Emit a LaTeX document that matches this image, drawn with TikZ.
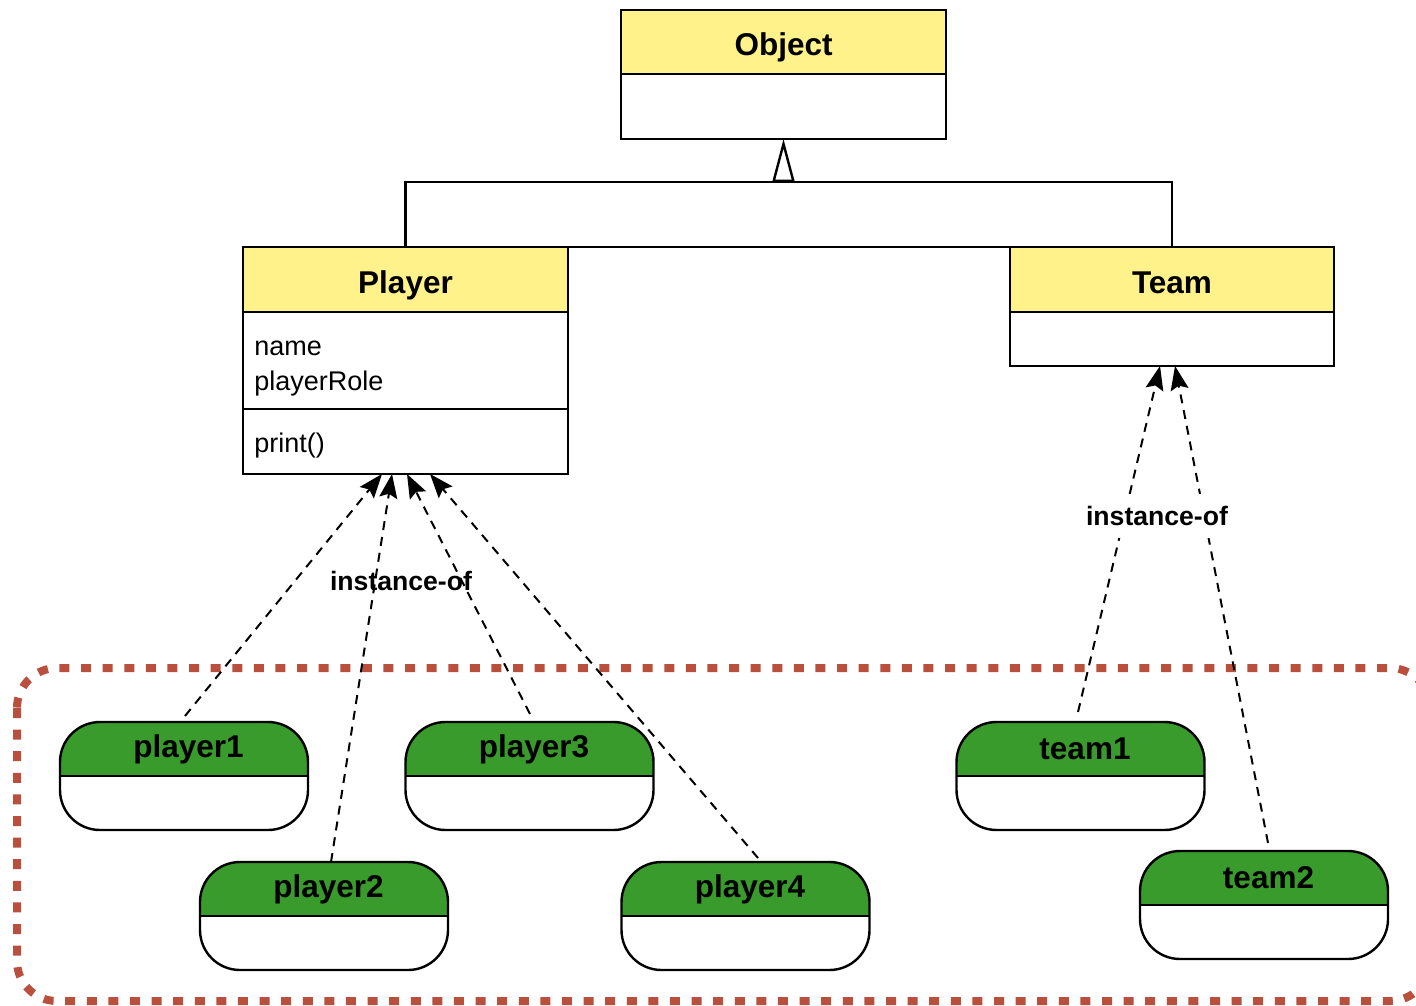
\documentclass[tikz,border=0pt]{standalone}
\usepackage{fontspec}
\setmainfont{Liberation Sans}
\usetikzlibrary{arrows.meta}
\definecolor{classyellow}{RGB}{255,242,138}
\definecolor{instgreen}{RGB}{57,155,43}
\definecolor{groupred}{RGB}{185,80,62}
\begin{document}
\begin{tikzpicture}[x=0.5pt,y=-0.5pt,
  boxline/.style={line width=1.2pt},
  classhead/.style={boxline, draw, fill=classyellow, outer sep=0pt, inner sep=0pt,
    text height=15pt, text depth=1.5pt,
    font=\fontsize{15.75}{19}\selectfont\bfseries},
  classbody/.style={boxline, draw, fill=white, outer sep=0pt, inner sep=0pt},
  attr/.style={inner sep=0pt, align=left, font=\fontsize{13.5}{17.5}\selectfont},
  instbox/.style={boxline, draw, rounded corners=20pt, outer sep=0pt, inner sep=0pt,
    minimum width=124pt, minimum height=54pt,
    path picture={
      \fill[instgreen, sharp corners] (path picture bounding box.north west) rectangle (path picture bounding box.east);
      \draw[boxline, sharp corners] (path picture bounding box.west) -- (path picture bounding box.east);}},
  instname/.style={inner sep=0pt, font=\fontsize{15.75}{19}\selectfont\bfseries},
  reltext/.style={inner sep=0pt, font=\fontsize{13.3}{16}\selectfont\bfseries},
  assoc/.style={boxline},
  gen/.style={boxline, -{Triangle[open, length=21.5pt, width=11pt]}},
  inst/.style={line width=1pt, dash pattern=on 4.5pt off 3.5pt,
    -{Stealth[length=12pt, width=9pt, inset=2pt]}},
  groupbox/.style={draw=groupred, line width=4pt, dash pattern=on 5pt off 5.8pt, rounded corners=20pt}
]
\clip (0,0) rectangle (1416,1005);

% grouping frame around the instances
\draw[groupbox] (17,668) rectangle (1430,1001);

% classes
\node[classhead, minimum width=162.5pt, minimum height=32pt] (oh) at (783.5,42) {Object};
\node[classbody, minimum width=162.5pt, minimum height=32.5pt] (ob) at (783.5,106.5) {};

\node[classhead, minimum width=162.5pt, minimum height=32.5pt] (ph) at (405.5,279.5) {Player};
\node[classbody, minimum width=162.5pt, minimum height=48.5pt] (pa) at (405.5,360.5) {};
\node[classbody, minimum width=162.5pt, minimum height=32.5pt] (pm) at (405.5,441.5) {};
\node[attr, anchor=west] (patext) at (254,369) {name\\playerRole};
\node[attr, anchor=west] (pmtext) at (254,446) {print()};

\node[classhead, minimum width=162pt, minimum height=32.5pt] (th) at (1172,279.5) {Team};
\node[classbody, minimum width=162pt, minimum height=27pt] (tb) at (1172,339) {};

% generalization
\coordinate (gb) at (783.5,182);
\draw[assoc] (ph.north) |- (gb) -| (th.north);
\draw[assoc] (ph.north east) -- (th.north west);
\draw[gen] (gb) -- (ob.south);

% instances
\node[instbox] (p1) at (184,776) {};
\node[instname] (p1n) at ([xshift=2.25pt,yshift=13.5pt]p1.center) {player1};
\node[instbox] (p2) at (324,916) {};
\node[instname] (p2n) at ([xshift=2.25pt,yshift=13.5pt]p2.center) {player2};
\node[instbox] (p3) at (529.5,776) {};
\node[instname] (p3n) at ([xshift=2.25pt,yshift=13.5pt]p3.center) {player3};
\node[instbox] (p4) at (745.5,916) {};
\node[instname] (p4n) at ([xshift=2.25pt,yshift=13.5pt]p4.center) {player4};
\node[instbox] (t1) at (1080.5,776) {};
\node[instname] (t1n) at ([xshift=2.25pt,yshift=13.5pt]t1.center) {team1};
\node[instbox] (t2) at (1264,905) {};
\node[instname] (t2n) at ([xshift=2.25pt,yshift=13.5pt]t2.center) {team2};

% instance-of relations
\draw[inst] ([xshift=0.5pt,yshift=3pt]p1.north) -- ([xshift=-11.75pt]pm.south);
\draw[inst] ([xshift=3.5pt]p2.north) -- ([xshift=-6.75pt]pm.south);
\draw[inst] ([xshift=0.25pt,yshift=4pt]p3.north) -- ([xshift=0.75pt]pm.south);
\draw[inst] ([xshift=6.25pt,yshift=2pt]p4.north) -- ([xshift=12.25pt]pm.south);
\node[reltext] (plabel) at (401,581) {instance-of};

\draw[inst] ([xshift=-1.25pt,yshift=5pt]t1.north) -- ([xshift=-6pt]tb.south);
\draw[inst] ([xshift=2pt,yshift=4pt]t2.north) -- ([xshift=1.5pt]tb.south);
\node[reltext, fill=white, inner xsep=2pt, inner ysep=6pt] (tlabel) at (1157,516) {instance-of};
\end{tikzpicture}
\end{document}
